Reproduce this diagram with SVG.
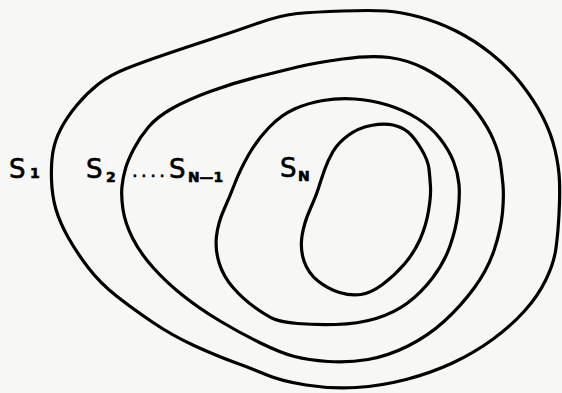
<svg xmlns="http://www.w3.org/2000/svg" width="562" height="393" viewBox="0 0 562 393">
<style>
.c{fill:none;stroke:#000;stroke-width:3.2;stroke-linejoin:round;stroke-linecap:round}
.t{font-family:"DejaVu Sans","Liberation Sans",Arial,sans-serif;fill:#000;stroke:#000;stroke-width:0.6}
.s{font-size:26px}
.sub{font-size:14px;font-weight:bold}
</style>
<rect width="562" height="393" fill="#f7f7f5"/>
<g id="S1">
<path class="c" d="M51.5,179.5 Q51,163 53,151.5 Q55,140 61,128.5 Q67,117 77,105 Q87,93 98.5,84 Q110,75 126.5,68.5 Q143,62 165,54.5 Q187,47 210,39.5 Q233,32 257,23.5 Q281,15 297.5,13.5 Q314,12 342.5,11 Q371,10 386,11 Q401,12 419.5,17 Q438,22 456,31 Q474,40 491,53.5 Q508,67 521,83.5 Q534,100 542.5,116.5 Q551,133 555,150 Q559,167 559.5,181.5 Q560,196 559,214.5 Q558,233 556,248 Q554,263 546,279.5 Q538,296 524.5,311 Q511,326 492.5,339.5 Q474,353 452.5,363 Q431,373 406,379.5 Q381,386 356,387.5 Q331,389 306,385 Q281,381 267,375 Q253,369 235,362.5 Q217,356 195,346 Q173,336 153,322.5 Q133,309 116.5,296 Q100,283 88.5,268 Q77,253 68.5,238 Q60,223 56,209.5 Q52,196 51.5,179.5 Z"/>
<text class="t s" x="9" y="178">S</text><text class="t sub" x="30" y="178">1</text>
</g>
<g id="S2">
<path class="c" d="M123,209.5 Q121,196 122,186.5 Q123,177 125.5,168.5 Q128,160 134,148.5 Q140,137 148.5,127 Q157,117 172,108.5 Q187,100 210,91.5 Q233,83 257,77 Q281,71 297.5,67 Q314,63 342.5,59 Q371,55 389.5,57.5 Q408,60 424.5,68.5 Q441,77 454.5,88.5 Q468,100 478,113.5 Q488,127 493.5,140 Q499,153 500.5,163.5 Q502,174 503,185 Q504,196 502.5,212.5 Q501,229 494.5,249 Q488,269 474.5,287.5 Q461,306 444.5,321 Q428,336 408,346 Q388,356 368,359.5 Q348,363 328,361.5 Q308,360 294.5,356.5 Q281,353 260.5,343 Q240,333 220,321 Q200,309 183.5,296 Q167,283 153.5,268 Q140,253 132.5,238 Q125,223 123,209.5 Z"/>
<text class="t s" x="86" y="178">S</text><text class="t sub" x="106" y="182">2</text>
<text class="t" x="132" y="177" style="font-size:18px;letter-spacing:3.4px">....</text>
</g>
<g id="SN-1">
<path class="c" d="M224,209.5 Q230,196 235,183 Q240,170 248.5,155 Q257,140 269,127.5 Q281,115 294.5,109 Q308,103 323,100.5 Q338,98 354.5,99 Q371,100 387.5,105 Q404,110 417.5,118.5 Q431,127 440,138.5 Q449,150 453.5,161.5 Q458,173 459,184.5 Q460,196 458,212.5 Q456,229 450,246 Q444,263 432.5,278 Q421,293 407.5,303 Q394,313 376,318.5 Q358,324 336,324.5 Q314,325 297.5,323.5 Q281,322 274,319 Q267,316 255,307.5 Q243,299 233,287.5 Q223,276 219,262.5 Q215,249 216.5,236 Q218,223 224,209.5 Z"/>
<text class="t s" x="169" y="178">S</text><text class="t sub" x="188" y="182" textLength="35" lengthAdjust="spacingAndGlyphs">N—1</text>
</g>
<g id="SN">
<path class="c" d="M310,209.5 Q316,196 318.5,188 Q321,180 324.5,170 Q328,160 333,151.5 Q338,143 348,135.5 Q358,128 371,125.5 Q384,123 393,125 Q402,127 408,132 Q414,137 421,148.5 Q428,160 429,169 Q430,178 430.5,187 Q431,196 428.5,211 Q426,226 420,239.5 Q414,253 404,264.5 Q394,276 382.5,284.5 Q371,293 361,294.5 Q351,296 339.5,292.5 Q328,289 318,281 Q308,273 304,261 Q300,249 302,236 Q304,223 310,209.5 Z"/>
<text class="t s" x="280" y="177">S</text><text class="t sub" x="298" y="181">N</text>
</g>
</svg>
